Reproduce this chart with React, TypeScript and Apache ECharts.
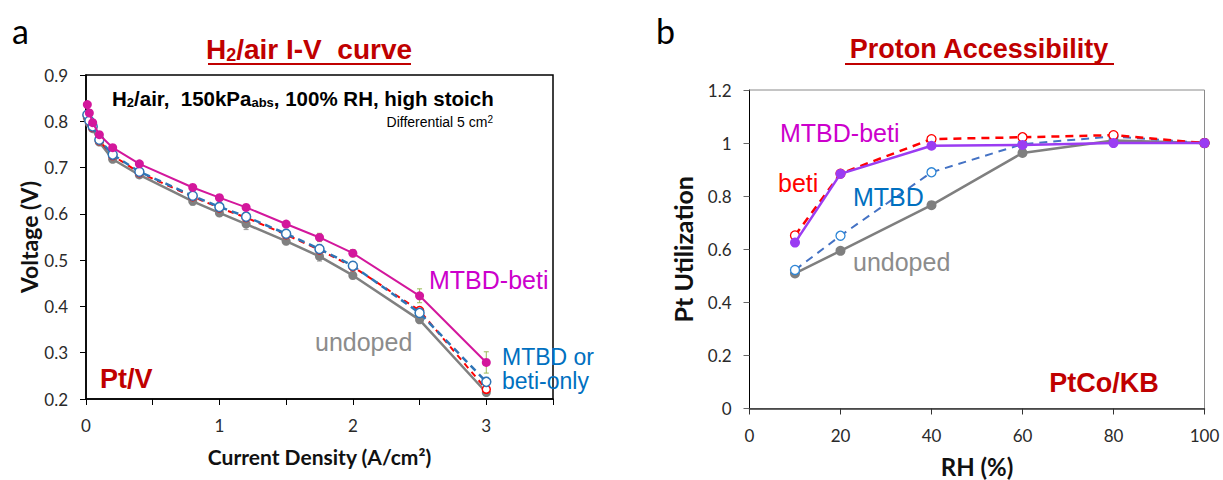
import React, { useEffect, useRef } from "react";
import * as echarts from "echarts";

// ---------- Panel a: H2/air I-V curve ----------
const ivCurrent = [0.01, 0.025, 0.05, 0.1, 0.2, 0.4, 0.8, 1.0, 1.2, 1.5, 1.75, 2.0, 2.5, 3.0];
const ivMtbdBeti = [0.836, 0.818, 0.797, 0.771, 0.743, 0.708, 0.657, 0.635, 0.614, 0.578, 0.549, 0.515, 0.423, 0.279];
const ivMtbd = [0.814, 0.801, 0.789, 0.76, 0.728, 0.691, 0.639, 0.615, 0.594, 0.557, 0.524, 0.488, 0.386, 0.237];
const ivBetiOnly = [0.812, 0.8, 0.787, 0.758, 0.726, 0.689, 0.637, 0.613, 0.592, 0.555, 0.522, 0.486, 0.391, 0.221];
const ivUndoped = [0.807, 0.796, 0.784, 0.755, 0.718, 0.684, 0.627, 0.602, 0.578, 0.541, 0.508, 0.467, 0.371, 0.214];
const ivMtbdBetiErr = [0, 0, 0, 0, 0, 0, 0.005, 0.006, 0.006, 0.006, 0.009, 0.008, 0.015, 0.023];
const ivMtbdErr = [0, 0, 0, 0, 0, 0, 0.01, 0.012, 0.017, 0.01, 0.01, 0.008, 0.01, 0.01];
const ivUndopedErr = [0, 0, 0, 0, 0, 0, 0.008, 0.008, 0.012, 0.008, 0.01, 0.008, 0.006, 0.006];

// ---------- Panel b: Proton accessibility ----------
const rh = [10, 20, 40, 60, 80, 100];
const utilMtbdBeti = [0.625, 0.884, 0.99, 0.993, 1.0, 1.0];
const utilBeti = [0.652, 0.885, 1.015, 1.022, 1.03, 1.0];
const utilMtbd = [0.522, 0.651, 0.89, 0.996, 1.025, 1.0];
const utilUndoped = [0.509, 0.594, 0.766, 0.963, 1.01, 1.0];

const DARK_RED = "#c00000";
const TICK_FONT = "Lato";
const ARIAL = "Liberation Sans";

const pairs = (xs: number[], ys: number[]) => xs.map((x, i) => [x, ys[i]]);

function errSeries(ys: number[], errs: number[], color: string) {
  return {
    type: "custom",
    xAxisIndex: 0,
    yAxisIndex: 0,
    z: 1,
    silent: true,
    data: ivCurrent.map((x, i) => [x, ys[i], errs[i]]),
    renderItem: (_p: any, api: any) => {
      const x = api.value(0);
      const y = api.value(1);
      const e = api.value(2);
      if (!e) return null;
      const hi = api.coord([x, y + e]);
      const lo = api.coord([x, y - e]);
      const style = { stroke: color, lineWidth: 1 };
      return {
        type: "group",
        children: [
          { type: "line", shape: { x1: hi[0], y1: hi[1], x2: lo[0], y2: lo[1] }, style },
          { type: "line", shape: { x1: hi[0] - 2.5, y1: hi[1], x2: hi[0] + 2.5, y2: hi[1] }, style },
          { type: "line", shape: { x1: lo[0] - 2.5, y1: lo[1], x2: lo[0] + 2.5, y2: lo[1] }, style },
        ],
      };
    },
  };
}

function txt(x: number, y: number, text: string, fontSize: number, fill: string, extra: any = {}) {
  return {
    type: "text",
    x,
    y,
    z: 100,
    style: {
      text,
      fontSize,
      fontFamily: ARIAL,
      fill,
      align: "left",
      verticalAlign: "middle",
      ...extra,
    },
  };
}

export default function App() {
  const ref = useRef<HTMLDivElement>(null);

  useEffect(() => {
    if (!ref.current) return;
    const chart = echarts.init(ref.current, undefined, { renderer: "svg" });

    const axisLabelBase = { fontFamily: TICK_FONT, fontSize: 17, color: "#2a2a2a", margin: 18 };
    const nameStyle = (size: number) => ({ fontFamily: TICK_FONT, fontSize: size, fontWeight: "bold", color: "#111" });

    const option: any = {
      animation: false,
      backgroundColor: "#fff",
      grid: [
        { left: 86, top: 75, width: 467, height: 324, show: true, borderColor: "#000", borderWidth: 1.5, outerBoundsMode: "none" },
        { left: 749.5, top: 90, width: 455, height: 318.5, show: true, borderColor: "#8a8a8a", borderWidth: 1, outerBoundsMode: "none" },
      ],
      xAxis: [
        {
          gridIndex: 0,
          type: "value",
          min: 0,
          max: 3.5,
          interval: 0.5,
          axisLine: { show: true, lineStyle: { color: "#000", width: 1.5 } },
          axisTick: { show: true, length: 6, lineStyle: { color: "#000" } },
          splitLine: { show: false },
          axisLabel: { ...axisLabelBase, formatter: (v: number) => (Math.abs(v - Math.round(v)) < 1e-6 ? String(Math.round(v)) : "") },
          name: "Current Density (A/cm²)",
          nameLocation: "middle",
          nameGap: 47,
          nameTextStyle: nameStyle(21),
        },
        {
          gridIndex: 1,
          type: "value",
          min: 0,
          max: 100,
          interval: 20,
          axisLine: { show: true, lineStyle: { color: "#333", width: 1.5 } },
          axisTick: { show: true, length: 6, lineStyle: { color: "#333" } },
          splitLine: { show: false },
          axisLabel: { ...axisLabelBase },
          name: "RH (%)",
          nameLocation: "middle",
          nameGap: 46,
          nameTextStyle: nameStyle(24),
        },
      ],
      yAxis: [
        {
          gridIndex: 0,
          type: "value",
          min: 0.2,
          max: 0.9,
          interval: 0.1,
          axisLine: { show: true, lineStyle: { color: "#000", width: 1.5 } },
          axisTick: { show: true, length: 6, lineStyle: { color: "#000" } },
          splitLine: { show: false },
          axisLabel: { ...axisLabelBase, formatter: (v: number) => v.toFixed(1) },
          name: "Voltage (V)",
          nameLocation: "middle",
          nameRotate: 90,
          nameGap: 45,
          nameTextStyle: nameStyle(23),
        },
        {
          gridIndex: 1,
          type: "value",
          min: 0,
          max: 1.2,
          interval: 0.2,
          axisLine: { show: true, lineStyle: { color: "#000", width: 1 } },
          axisTick: { show: true, length: 6, lineStyle: { color: "#666" } },
          splitLine: { show: false },
          axisLabel: { ...axisLabelBase, formatter: (v: number) => String(Math.round(v * 10) / 10) },
          name: "Pt Utilization",
          nameLocation: "middle",
          nameRotate: 90,
          nameGap: 54,
          nameTextStyle: nameStyle(25),
        },
      ],
      series: [
        // ---- panel a ----
        errSeries(ivUndoped, ivUndopedErr, "#9a9a9a"),
        errSeries(ivMtbd, ivMtbdErr, "#7fb2e5"),
        errSeries(ivMtbdBeti, ivMtbdBetiErr, "#9bbb59"),
        {
          name: "undoped",
          type: "line",
          xAxisIndex: 0,
          yAxisIndex: 0,
          z: 2,
          data: pairs(ivCurrent, ivUndoped),
          symbol: "circle",
          symbolSize: 9,
          lineStyle: { color: "#808080", width: 2.5 },
          itemStyle: { color: "#808080" },
        },
        {
          name: "beti-only",
          type: "line",
          xAxisIndex: 0,
          yAxisIndex: 0,
          z: 3,
          data: pairs(ivCurrent, ivBetiOnly),
          symbol: "circle",
          symbolSize: 8,
          lineStyle: { color: "#ff0000", width: 2, type: [6, 5] },
          itemStyle: { color: "#fff", borderColor: "#ff0000", borderWidth: 1.5 },
        },
        {
          name: "MTBD",
          type: "line",
          xAxisIndex: 0,
          yAxisIndex: 0,
          z: 4,
          data: pairs(ivCurrent, ivMtbd),
          symbol: "circle",
          symbolSize: 9,
          lineStyle: { color: "#2e75b6", width: 2.5, type: [7, 5] },
          itemStyle: { color: "#fff", borderColor: "#2e75b6", borderWidth: 1.5 },
        },
        {
          name: "MTBD-beti",
          type: "line",
          xAxisIndex: 0,
          yAxisIndex: 0,
          z: 5,
          data: pairs(ivCurrent, ivMtbdBeti),
          symbol: "circle",
          symbolSize: 9,
          lineStyle: { color: "#d3179c", width: 2 },
          itemStyle: { color: "#d3179c" },
        },
        // ---- panel b ----
        {
          name: "undoped",
          type: "line",
          xAxisIndex: 1,
          yAxisIndex: 1,
          z: 2,
          data: pairs(rh, utilUndoped),
          symbol: "circle",
          symbolSize: 10,
          lineStyle: { color: "#7f7f7f", width: 2.5 },
          itemStyle: { color: "#7f7f7f" },
        },
        {
          name: "MTBD",
          type: "line",
          xAxisIndex: 1,
          yAxisIndex: 1,
          z: 3,
          data: pairs(rh, utilMtbd),
          symbol: "circle",
          symbolSize: 9,
          lineStyle: { color: "#4472c4", width: 2, type: [8, 6] },
          itemStyle: { color: "#fff", borderColor: "#2e86d6", borderWidth: 1.3 },
        },
        {
          name: "beti",
          type: "line",
          xAxisIndex: 1,
          yAxisIndex: 1,
          z: 4,
          data: pairs(rh, utilBeti),
          symbol: "circle",
          symbolSize: 9,
          lineStyle: { color: "#ff0000", width: 2.5, type: [8, 6] },
          itemStyle: { color: "#fff", borderColor: "#ff0000", borderWidth: 1.3 },
        },
        {
          name: "MTBD-beti",
          type: "line",
          xAxisIndex: 1,
          yAxisIndex: 1,
          z: 5,
          data: pairs(rh, utilMtbdBeti),
          symbol: "circle",
          symbolSize: 10,
          lineStyle: { color: "#9b3cf2", width: 2.5 },
          itemStyle: { color: "#9b3cf2" },
        },
      ],
      graphic: [
        txt(12, 30, "a", 34, "#000", { fontFamily: TICK_FONT }),
        txt(656, 30, "b", 34, "#000", { fontFamily: TICK_FONT }),
        {
          type: "text",
          x: 309,
          y: 49,
          z: 100,
          style: {
            text: "{t|H}{s|2}{t|/air I-V  curve}",
            align: "center",
            verticalAlign: "middle",
            rich: {
              t: { fontSize: 28, fontWeight: "bold", fontFamily: ARIAL, fill: DARK_RED, lineHeight: 30 },
              s: { fontSize: 18, fontWeight: "bold", fontFamily: ARIAL, fill: DARK_RED, lineHeight: 20, verticalAlign: "bottom" },
            },
          },
        },
        { type: "line", z: 100, shape: { x1: 208, y1: 64, x2: 411, y2: 64 }, style: { stroke: DARK_RED, lineWidth: 2 } },
        txt(979, 49, "Proton Accessibility", 27, DARK_RED, { fontWeight: "bold", align: "center" }),
        { type: "line", z: 100, shape: { x1: 845, y1: 64, x2: 1114, y2: 64 }, style: { stroke: DARK_RED, lineWidth: 2 } },
        {
          type: "text",
          x: 112,
          y: 98,
          z: 100,
          style: {
            text: "{b|H}{bs|2}{b|/air,  150kPa}{bs|abs}{b|, 100% RH, high stoich}",
            align: "left",
            verticalAlign: "middle",
            rich: {
              b: { fontSize: 20.5, fontWeight: "bold", fontFamily: ARIAL, fill: "#000", lineHeight: 22 },
              bs: { fontSize: 13, fontWeight: "bold", fontFamily: ARIAL, fill: "#000", lineHeight: 13, verticalAlign: "bottom" },
            },
          },
        },
        {
          type: "text",
          x: 493,
          y: 122,
          z: 100,
          style: {
            text: "{d|Differential 5 cm}{p|2}",
            align: "right",
            verticalAlign: "middle",
            rich: {
              d: { fontSize: 14, fontFamily: ARIAL, fill: "#000", lineHeight: 16 },
              p: { fontSize: 10, fontFamily: ARIAL, fill: "#000", lineHeight: 10, verticalAlign: "top" },
            },
          },
        },
        txt(429, 280, "MTBD-beti", 25, "#cc00cc"),
        txt(315, 342, "undoped", 25, "#8c8c8c"),
        txt(502, 357, "MTBD or", 23, "#0070c0"),
        txt(502, 381, "beti-only", 23, "#0070c0"),
        txt(100, 379, "Pt/V", 27, DARK_RED, { fontWeight: "bold" }),
        txt(780, 133, "MTBD-beti", 25, "#cc00cc"),
        txt(778, 183, "beti", 25, "#ff0000"),
        txt(853, 197, "MTBD", 25, "#0070c0"),
        txt(853, 262, "undoped", 25, "#8c8c8c"),
        txt(1104, 383, "PtCo/KB", 27, DARK_RED, { fontWeight: "bold", align: "center" }),
      ],
    };

    chart.setOption(option);
    return () => chart.dispose();
  }, []);

  return (
    <div
      ref={ref}
      style={{ position: "fixed", left: 0, top: 0, width: 1223, height: 480, background: "#fff" }}
    />
  );
}
